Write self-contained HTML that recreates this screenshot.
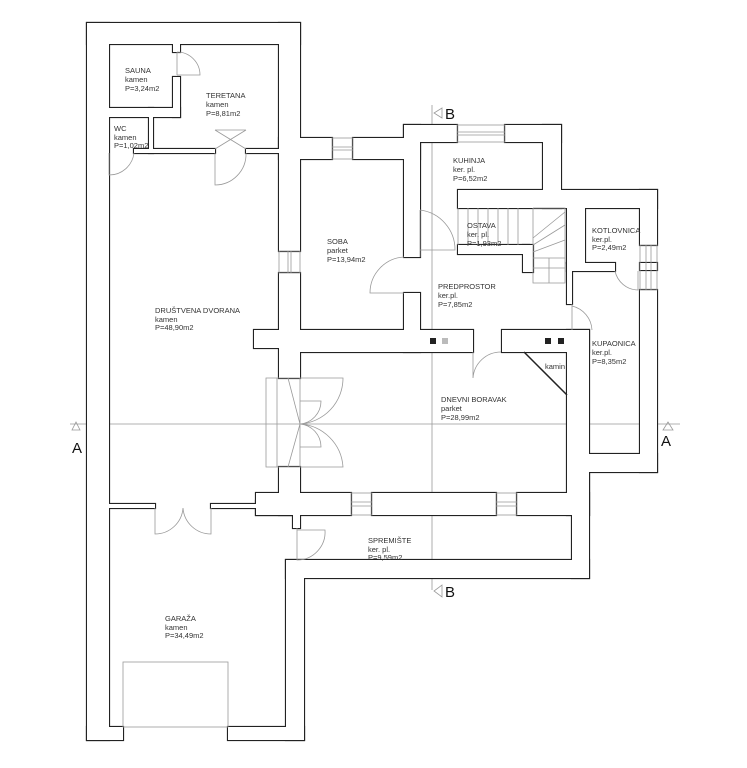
<!DOCTYPE html>
<html><head><meta charset="utf-8"><style>
html,body{margin:0;padding:0;background:#fff;}
svg{display:block;}
text{font-family:"Liberation Sans",sans-serif;font-size:7.5px;fill:#333;}
</style></head><body>
<svg width="747" height="768" viewBox="0 0 747 768" xmlns="http://www.w3.org/2000/svg">
<defs>
<g id="walls">
<rect x="87" y="23" width="22" height="717"/>
<rect x="87" y="23" width="213" height="21"/>
<rect x="279" y="23" width="21" height="228"/>
<rect x="279" y="273" width="21" height="105"/>
<rect x="254" y="330" width="46" height="18"/>
<rect x="279" y="138" width="53" height="21"/>
<rect x="353" y="138" width="67" height="21"/>
<rect x="404" y="125" width="53" height="17"/>
<rect x="404" y="125" width="16" height="132"/>
<rect x="505" y="125" width="56" height="17"/>
<rect x="543" y="125" width="18" height="83"/>
<rect x="458" y="190" width="199" height="18"/>
<rect x="640" y="190" width="17" height="55"/>
<rect x="640" y="263" width="17" height="7"/>
<rect x="640" y="290" width="17" height="182"/>
<rect x="589" y="454" width="68" height="18"/>
<rect x="567" y="330" width="22" height="185"/>
<rect x="502" y="330" width="87" height="22"/>
<rect x="300" y="330" width="173" height="22"/>
<rect x="404" y="293" width="16" height="59"/>
<rect x="256" y="493" width="95" height="22"/>
<rect x="372" y="493" width="124" height="22"/>
<rect x="517" y="493" width="72" height="22"/>
<rect x="279" y="467" width="21" height="48"/>
<rect x="256" y="501" width="44" height="14"/>
<rect x="293" y="510" width="7" height="18"/>
<rect x="109" y="504" width="46" height="4"/>
<rect x="211" y="504" width="45" height="4"/>
<rect x="572" y="472" width="17" height="106"/>
<rect x="286" y="560" width="303" height="18"/>
<rect x="286" y="560" width="18" height="180"/>
<rect x="228" y="727" width="76" height="13"/>
<rect x="87" y="727" width="36" height="13"/>
<rect x="567" y="208" width="18" height="55"/>
<rect x="567" y="263" width="48" height="8"/>
<rect x="567" y="263" width="5" height="41"/>
<rect x="458" y="245" width="71" height="9"/>
<rect x="523" y="245" width="10" height="27"/>
<rect x="173" y="44" width="7" height="8"/>
<rect x="173" y="77" width="7" height="40"/>
<rect x="109" y="108" width="71" height="9"/>
<rect x="149" y="108" width="4" height="45"/>
<rect x="134" y="149" width="81" height="4"/>
<rect x="246" y="149" width="33" height="4"/>
</g>
</defs>
<!-- section lines -->
<g stroke="#999" stroke-width="0.8" fill="none">
<line x1="70" y1="424" x2="680" y2="424"/>
<line x1="432" y1="105" x2="432" y2="590"/>
</g>
<use href="#walls" fill="none" stroke="#222" stroke-width="2.2"/>
<use href="#walls" fill="#fff" stroke="none"/>
<!-- windows -->
<g stroke="#999" stroke-width="0.8" fill="none">
<rect x="332" y="138" width="21" height="21"/><line x1="332" y1="147" x2="353" y2="147"/><line x1="332" y1="150" x2="353" y2="150"/>
<rect x="457" y="125" width="48" height="17"/><line x1="457" y1="132" x2="505" y2="132"/><line x1="457" y1="135" x2="505" y2="135"/>
<rect x="279" y="251" width="21" height="22"/><line x1="288" y1="251" x2="288" y2="273"/><line x1="291" y1="251" x2="291" y2="273"/>
<rect x="640" y="245" width="17" height="45"/><line x1="646" y1="245" x2="646" y2="290"/><line x1="651" y1="245" x2="651" y2="290"/>
<rect x="351" y="493" width="21" height="22"/><line x1="351" y1="502" x2="372" y2="502"/><line x1="351" y1="506" x2="372" y2="506"/>
<rect x="496" y="493" width="21" height="22"/><line x1="496" y1="502" x2="517" y2="502"/><line x1="496" y1="506" x2="517" y2="506"/>
<!-- garage door -->
<rect x="123" y="662" width="105" height="65"/>
<!-- doors -->
<path d="M177 52 L177 75 M177 52 A23 23 0 0 1 200 75 L177 75"/>
<path d="M109 153 L109 175 A25 25 0 0 0 134 153"/>
<path d="M215 149 L246 130 M246 149 L215 130 M215 130 L246 130 M215 153 L215 185 A31 31 0 0 0 246 153"/>
<path d="M404 257 A36 36 0 0 0 370 293 L404 293"/>
<path d="M420 210 L420 257 M420 210 A40 40 0 0 1 455 250 L420 250"/>
<path d="M473 352 L473 378 A28 28 0 0 1 501 352"/>
<path d="M572 304 L572 330 M572 306 A26 26 0 0 1 592 330"/>
<path d="M615 271 A24 24 0 0 0 638 290 L638 271"/>
<path d="M155 508 L155 534 A28 28 0 0 0 183 508 M211 508 L211 534 A28 28 0 0 1 183 508"/>
<path d="M297 528 L297 560 A28 28 0 0 0 325 530 L297 530"/>
<path d="M266 378 L266 467 L300 467 L300 378 Z M277 378 L277 467 M288 378 L300 424 L288 467 M300 378 L343 378 A46 46 0 0 1 300 424 M300 467 L343 467 A46 46 0 0 0 300 424 M300 401 L321 401 A23 23 0 0 1 300 424 M300 447 L321 447 A23 23 0 0 0 300 424"/>
<!-- stairs -->
<path d="M458 208 L458 245 M468 208 L468 245 M478 208 L478 245 M488 208 L488 245 M498 208 L498 245 M508 208 L508 245 M518 208 L518 245 M533 208 L565 208 L565 283 L533 283 L533 208 M533 238 L565 212 M533 245 L565 225 M533 252 L565 240 M533 258 L565 258 M549 258 L549 283 M533 268 L565 268"/>
</g>
<line x1="524" y1="352" x2="567" y2="395" stroke="#222" stroke-width="1.5"/>
<!-- small squares -->
<g fill="#222"><rect x="430" y="338" width="6" height="6"/><rect x="545" y="338" width="6" height="6"/><rect x="558" y="338" width="6" height="6"/></g>
<rect x="442" y="338" width="6" height="6" fill="#bbb"/>
<!-- section markers -->
<g fill="none" stroke="#999" stroke-width="0.8">
<polygon points="72,430 80,430 76,422"/>
<polygon points="663,430 673,430 668,422"/>
<polygon points="442,108 442,118 434,113"/>
<polygon points="442,585 442,597 434,591"/>
</g>
<g style="font-size:15px" fill="#111">
<text x="72" y="453" style="font-size:15px;fill:#111">A</text>
<text x="661" y="446" style="font-size:15px;fill:#111">A</text>
<text x="445" y="119" style="font-size:15px;fill:#111">B</text>
<text x="445" y="597" style="font-size:15px;fill:#111">B</text>
</g>
<!-- labels -->
<text x="125" y="73">SAUNA</text><text x="125" y="82">kamen</text><text x="125" y="91">P=3,24m2</text>
<text x="206" y="98">TERETANA</text><text x="206" y="107">kamen</text><text x="206" y="116">P=8,81m2</text>
<text x="114" y="131">WC</text><text x="114" y="140">kamen</text><text x="114" y="148">P=1,02m2</text>
<text x="327" y="244">SOBA</text><text x="327" y="253">parket</text><text x="327" y="262">P=13,94m2</text>
<text x="155" y="313">DRUŠTVENA DVORANA</text><text x="155" y="322">kamen</text><text x="155" y="330">P=48,90m2</text>
<text x="453" y="163">KUHINJA</text><text x="453" y="172">ker. pl.</text><text x="453" y="181">P=6,52m2</text>
<text x="467" y="228">OSTAVA</text><text x="467" y="237">ker. pl.</text><text x="467" y="246">P=1,93m2</text>
<text x="592" y="233">KOTLOVNICA</text><text x="592" y="242">ker.pl.</text><text x="592" y="250">P=2,49m2</text>
<text x="438" y="289">PREDPROSTOR</text><text x="438" y="298">ker.pl.</text><text x="438" y="307">P=7,85m2</text>
<text x="592" y="346">KUPAONICA</text><text x="592" y="355">ker.pl.</text><text x="592" y="364">P=8,35m2</text>
<text x="545" y="369">kamin</text>
<text x="441" y="402">DNEVNI BORAVAK</text><text x="441" y="411">parket</text><text x="441" y="420">P=28,99m2</text>
<text x="368" y="543">SPREMIŠTE</text><text x="368" y="552">ker. pl.</text><text x="368" y="560">P=9,59m2</text>
<text x="165" y="621">GARAŽA</text><text x="165" y="630">kamen</text><text x="165" y="638">P=34,49m2</text>
</svg>
</body></html>
